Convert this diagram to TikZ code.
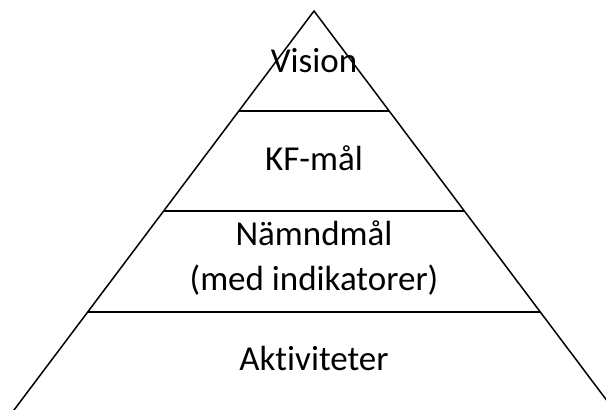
\documentclass[tikz,border=0pt]{standalone}
\usepackage{fontspec}
\setmainfont[Ligatures=NoCommon]{Carlito}
\begin{document}
\begin{tikzpicture}[x=1pt,y=-1pt]
    \tikzstyle{level} = [font=\fontsize{35}{45}\selectfont, anchor=base, inner sep=0pt]
    \tikzstyle{edge} = [line width=1.5pt, line join=miter]
    \useasboundingbox (0,0) rectangle (606,410);
    \clip (0,0) rectangle (606,410);

    % outline of the pyramid
    \coordinate (apex) at (314,11);
    \coordinate (baseleft) at (6.5,420);
    \coordinate (baseright) at (621.5,420);
    \draw [edge] (baseleft) -- (apex) -- (baseright);

    % level separators
    \coordinate (l1) at (239,111);
    \coordinate (r1) at (389,111);
    \coordinate (l2) at (164,211);
    \coordinate (r2) at (464,211);
    \coordinate (l3) at (88,312);
    \coordinate (r3) at (540,312);
    \draw [edge] (l1) -- (r1);
    \draw [edge] (l2) -- (r2);
    \draw [edge] (l3) -- (r3);

    \node (vision) [level] at (314,72) {Vision};
    \node (kfmal) [level] at (314,170) {KF-mål};
    \node (namndmal) [level] at (314,245) {Nämndmål};
    \node (indikatorer) [level] at (314,290) {(med indikatorer)};
    \node (aktiviteter) [level] at (314,370) {Aktiviteter};

\end{tikzpicture}
\end{document}
